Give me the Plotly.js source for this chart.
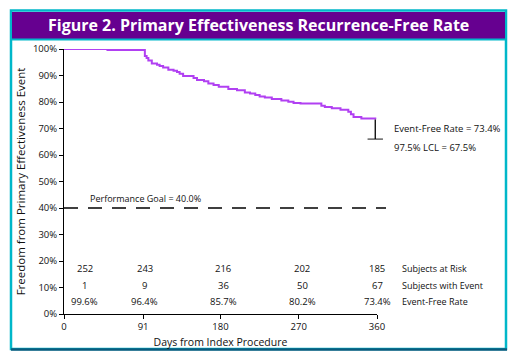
<!DOCTYPE html>
<html>
<head>
<meta charset="utf-8">
<script src="https://cdn.plot.ly/plotly-3.0.1.min.js"></script>
<style>
html,body{margin:0;padding:0;background:#fff;}
#chart{width:516px;height:364px;}
</style>
</head>
<body>
<div id="chart"></div>
<script>
// Kaplan-Meier step curve (days, event-free %)
var kmDays  = [0, 50, 93, 95, 97, 101, 107, 110, 114, 120, 126, 130, 133, 137, 149, 153, 161, 166, 172, 178, 189, 199, 208, 214, 220, 225, 231, 239, 250, 258, 264, 272, 296, 300, 308, 318, 327, 330, 333, 342, 358];
var kmRates = [100, 99.6, 97.4, 96.6, 95.7, 94.5, 94.1, 93.6, 93.0, 92.2, 91.8, 91.3, 90.7, 89.8, 89.1, 88.3, 87.8, 87.0, 86.4, 85.8, 84.9, 84.4, 83.6, 83.2, 82.6, 82.1, 81.7, 81.1, 80.6, 80.1, 79.6, 79.4, 78.6, 78.1, 77.6, 77.1, 76.3, 75.4, 74.3, 73.8, 73.4];

// Final estimate and its lower confidence limit (as drawn)
var finalDay = 358;
var finalRate = 73.4;
var lclDrawn = 66.0;
var finalLabel = "Event-Free Rate = 73.4%";
var lclLabel = "97.5% LCL = 67.5%";

// Performance goal
var goalValue = 40.0;
var goalLabel = "Performance Goal = 40.0%";

// X axis ticks
var xTicks = [0, 91, 180, 270, 360];

// Risk table
var tableDays = [24, 93, 183, 274, 360];
var atRisk = [252, 243, 216, 202, 185];
var withEvent = [1, 9, 36, 50, 67];
var eventFree = ["99.6%", "96.4%", "85.7%", "80.2%", "73.4%"];
var rowNames = ["Subjects at Risk", "Subjects with Event", "Event-Free Rate"];
var rowY = [17.0, 10.7, 4.6];

var FONT = "Open Sans, Noto Sans, sans-serif";

var traces = [
  {
    x: kmDays, y: kmRates, type: "scatter", mode: "lines",
    line: {shape: "hv", color: "#b140f2", width: 2},
    hoverinfo: "skip", showlegend: false
  },
  {
    x: [finalDay, finalDay], y: [finalRate, lclDrawn], type: "scatter", mode: "lines+markers",
    line: {color: "#000", width: 1.3},
    marker: {symbol: "line-ew", size: [0, 11], line: {color: "#000", width: 1.3}},
    cliponaxis: false, hoverinfo: "skip", showlegend: false
  }
];

function px2px(X){ return (X - 64) / 313; }
function py2py(Y){ return (314 - Y) / 265; }

var annotations = [];
// table rows
var rows = [atRisk, withEvent, eventFree];
for (var r = 0; r < rows.length; r++) {
  for (var c = 0; c < tableDays.length; c++) {
    annotations.push({
      x: tableDays[c], y: rowY[r], xref: "x", yref: "y",
      text: String(rows[r][c]), showarrow: false,
      font: {family: FONT, size: 9.5, color: "#111"},
      xanchor: "center", yanchor: "middle"
    });
  }
  annotations.push({
    x: px2px(400), y: rowY[r], xref: "paper", yref: "y",
    text: rowNames[r], showarrow: false,
    font: {family: FONT, size: 9, color: "#111"},
    xanchor: "left", yanchor: "middle"
  });
}
annotations.push({
  x: px2px(392), y: py2py(128), xref: "paper", yref: "paper",
  text: finalLabel, showarrow: false,
  font: {family: FONT, size: 9.5, color: "#111"}, xanchor: "left", yanchor: "middle"
});
annotations.push({
  x: px2px(392), y: py2py(147), xref: "paper", yref: "paper",
  text: lclLabel, showarrow: false,
  font: {family: FONT, size: 9.5, color: "#111"}, xanchor: "left", yanchor: "middle"
});
annotations.push({
  x: px2px(88), y: py2py(198), xref: "paper", yref: "paper",
  text: goalLabel, showarrow: false,
  font: {family: FONT, size: 9, color: "#111"}, xanchor: "left", yanchor: "middle"
});
// header title
annotations.push({
  x: px2px(258), y: py2py(25.5), xref: "paper", yref: "paper",
  text: "<b>Figure 2. Primary Effectiveness Recurrence-Free Rate</b>", showarrow: false,
  font: {family: FONT, size: 16, color: "#fff"}, xanchor: "center", yanchor: "middle"
});

var shapes = [
  // outer teal frame
  {type: "rect", xref: "paper", yref: "paper", x0: px2px(11), x1: px2px(506), y0: py2py(349), y1: py2py(10.5),
   line: {color: "#00b7c9", width: 2.5}, fillcolor: "rgba(0,0,0,0)", layer: "below"},
  // purple header
  {type: "rect", xref: "paper", yref: "paper", x0: px2px(12), x1: px2px(505), y0: py2py(39), y1: py2py(12),
   line: {width: 0}, fillcolor: "#660090", layer: "below"},
  // teal line under header
  {type: "line", xref: "paper", yref: "paper", x0: px2px(11), x1: px2px(506), y0: py2py(39.5), y1: py2py(39.5),
   line: {color: "#00b7c9", width: 2}},
  // dark bottom edge
  {type: "line", xref: "paper", yref: "paper", x0: px2px(11), x1: px2px(507), y0: py2py(349.5), y1: py2py(349.5),
   line: {color: "#0b5a7c", width: 2.5}},
  // performance goal
  {type: "line", xref: "paper", yref: "y", x0: 0, x1: px2px(386), y0: goalValue, y1: goalValue,
   line: {color: "#000", width: 1.5, dash: "14px,10px"}}
];

var layout = {
  width: 516, height: 364,
  margin: {l: 64, r: 139, t: 49, b: 50},
  paper_bgcolor: "#fff", plot_bgcolor: "#fff",
  showlegend: false,
  xaxis: {
    range: [0, 360], tickvals: xTicks, ticktext: xTicks.map(String),
    showgrid: false, zeroline: false, showline: true, linecolor: "#000", linewidth: 1,
    ticks: "outside", ticklen: 4, tickcolor: "#000",
    tickfont: {family: FONT, size: 9.5, color: "#111"},
    title: {text: "Days from Index Procedure", font: {family: FONT, size: 10.5, color: "#111"}, standoff: 6},
    fixedrange: true
  },
  yaxis: {
    range: [0, 100], dtick: 10, ticksuffix: "%",
    showgrid: false, zeroline: false, showline: true, linecolor: "#000", linewidth: 1,
    ticks: "outside", ticklen: 4, tickcolor: "#000",
    tickfont: {family: FONT, size: 9.5, color: "#111"},
    title: {text: "Freedom from Primary Effectiveness Event", font: {family: FONT, size: 11.5, color: "#111"}, standoff: 4},
    fixedrange: true
  },
  shapes: shapes,
  annotations: annotations
};

Plotly.newPlot("chart", traces, layout, {displayModeBar: false, staticPlot: true});
</script>
</body>
</html>
